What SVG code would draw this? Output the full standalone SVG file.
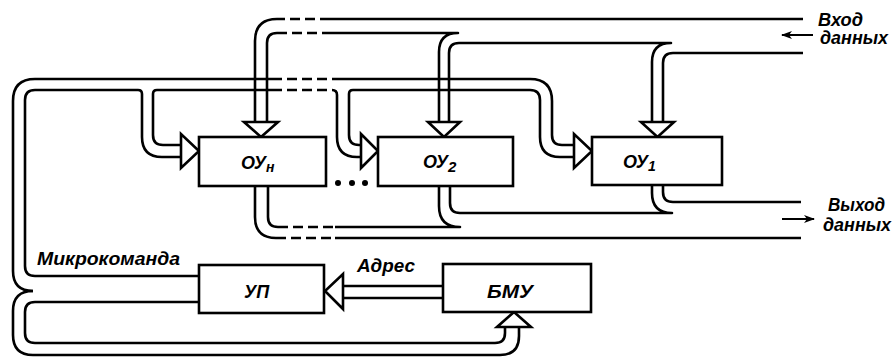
<svg xmlns="http://www.w3.org/2000/svg" width="893" height="357" viewBox="0 0 893 357">
<defs>
<style>
.ln{fill:none;stroke:#000;stroke-width:2.6;stroke-linejoin:round;stroke-linecap:butt}
.ds{fill:none;stroke:#000;stroke-width:2.6;stroke-dasharray:10 5}
.box{fill:#fff;stroke:#000;stroke-width:2.6}
.ah{fill:#fff;stroke:#000;stroke-width:2.6;stroke-linejoin:miter}
.t{font-family:"Liberation Sans","DejaVu Sans",sans-serif;font-style:italic;font-weight:bold;font-size:18px;fill:#000}
.thin{fill:none;stroke:#000;stroke-width:2}
</style>
<marker id="sa" markerWidth="11" markerHeight="8" refX="10" refY="4" orient="auto" markerUnits="userSpaceOnUse">
<path d="M0,0 L11,4 L0,8 L3,4 Z" fill="#000"/>
</marker>
</defs>
<g id="connectors">
<!-- data input bus -->
<path class="ln" d="M803,19 H330"/>
<path class="ds" d="M330,19 H277"/>
<path class="ln" d="M277,19 Q255,19 255,41 V122"/>
<path class="ln" d="M267,122 V43 Q267,33 277,33"/>
<path class="ds" d="M277,33 H330"/>
<path class="ln" d="M330,33 H458 Q439,33 439,52 V122"/>
<path class="ln" d="M449,122 V53 Q449,43 459,43 H671 Q652,43 652,62 V122"/>
<path class="ln" d="M663,122 V63 Q663,53 673,53 H803"/>
<polygon class="ah" points="244,122 278,122 261,137"/>
<polygon class="ah" points="428,122 460,122 444,137"/>
<polygon class="ah" points="641,122 674,122 657.5,137"/>
<!-- microcommand bus -->
<path class="ln" d="M33,291 Q13,291 13,271 V101 Q13,79 35,79 H272"/>
<path class="ds" d="M272,79 H332"/>
<path class="ln" d="M332,79 H530 Q552,79 552,101 V135 Q552,145 562,145 H574"/>
<path class="ln" d="M199,276 H35 Q25,276 25,266 V100 Q25,90 35,90 H138 Q142,90 142,94 V137 Q142,157 162,157 H181"/>
<path class="ln" d="M181,145 H163 Q153,145 153,135 V94 Q153,90 157,90 H272"/>
<path class="ds" d="M272,90 H332"/>
<path class="ln" d="M332,90 Q337,90 337,95 V137 Q337,157 357,157 H361"/>
<path class="ln" d="M361,145 H359 Q349,145 349,135 V94 Q349,90 353,90 H530 Q540,90 540,100 V137 Q540,157 560,157 H574"/>
<polygon class="ah" points="181,134 181,168 199,151"/>
<polygon class="ah" points="361,134 361,168 378,151"/>
<polygon class="ah" points="574,134 574,168 592,151"/>
<!-- lower loop to BMU -->
<path class="ln" d="M33,291 Q13,291 13,311 V335 Q13,355 33,355 H500 Q519,355 519,336 V327"/>
<path class="ln" d="M199,302 H35 Q25,302 25,312 V333 Q25,343 35,343 H495 Q505,343 505,333 V327"/>
<polygon class="ah" points="497,327 531,327 514,312"/>
<!-- address -->
<path class="ln" d="M443,286 H343 M443,298 H343"/>
<polygon class="ah" points="343,274 343,309 325,291"/>
<!-- data output bus -->
<path class="ln" d="M663,185 V192 Q663,202 673,202 H801"/>
<path class="ln" d="M450,186 V203 Q450,213 460,213 H672 Q652,213 652,193 V185"/>
<path class="ln" d="M268,186 V217 Q268,227 278,227"/>
<path class="ds" d="M278,227 H335"/>
<path class="ln" d="M335,227 H460 Q439,227 439,206 V186"/>
<path class="ln" d="M255,186 V217 Q255,238 276,238"/>
<path class="ds" d="M276,238 H335"/>
<path class="ln" d="M335,238 H801"/>
<!-- io arrows -->
<line class="thin" x1="813" y1="35" x2="782" y2="35" marker-end="url(#sa)"/>
<line class="thin" x1="782" y1="219" x2="814" y2="219" marker-end="url(#sa)"/>
</g>
<g id="OUn">
<rect class="box" x="199" y="137" width="127" height="49"/>
<text class="t" x="241" y="169">ОУ<tspan font-size="14" dy="3">н</tspan></text>
</g>
<g id="dots">
<circle cx="338" cy="183" r="3"/>
<circle cx="352" cy="183" r="3"/>
<circle cx="365" cy="183" r="3"/>
</g>
<g id="OU2">
<rect class="box" x="378" y="137" width="135" height="49"/>
<text class="t" x="423" y="168">ОУ<tspan font-size="15" dy="4">2</tspan></text>
</g>
<g id="OU1">
<rect class="box" x="592" y="137" width="130" height="48"/>
<text class="t" x="623" y="168">ОУ<tspan font-size="14" dy="3">1</tspan></text>
</g>
<g id="UP">
<rect class="box" x="199" y="265" width="125" height="48"/>
<text class="t" x="244" y="298">УП</text>
</g>
<g id="BMU">
<rect class="box" x="443" y="264" width="148" height="48"/>
<text class="t" x="487" y="298" textLength="46" lengthAdjust="spacingAndGlyphs">БМУ</text>
</g>
<g id="labels">
<text class="t" x="37" y="265" textLength="143" lengthAdjust="spacingAndGlyphs">Микрокоманда</text>
<text class="t" x="357" y="272" textLength="58" lengthAdjust="spacingAndGlyphs">Адрес</text>
<text class="t" x="818" y="26" font-size="17" textLength="45" lengthAdjust="spacingAndGlyphs">Вход</text>
<text class="t" x="820" y="44" font-size="17" textLength="68" lengthAdjust="spacingAndGlyphs">данных</text>
<text class="t" x="828" y="211" font-size="17" textLength="57" lengthAdjust="spacingAndGlyphs">Выход</text>
<text class="t" x="823" y="231" font-size="17" textLength="68" lengthAdjust="spacingAndGlyphs">данных</text>
</g>
</svg>
